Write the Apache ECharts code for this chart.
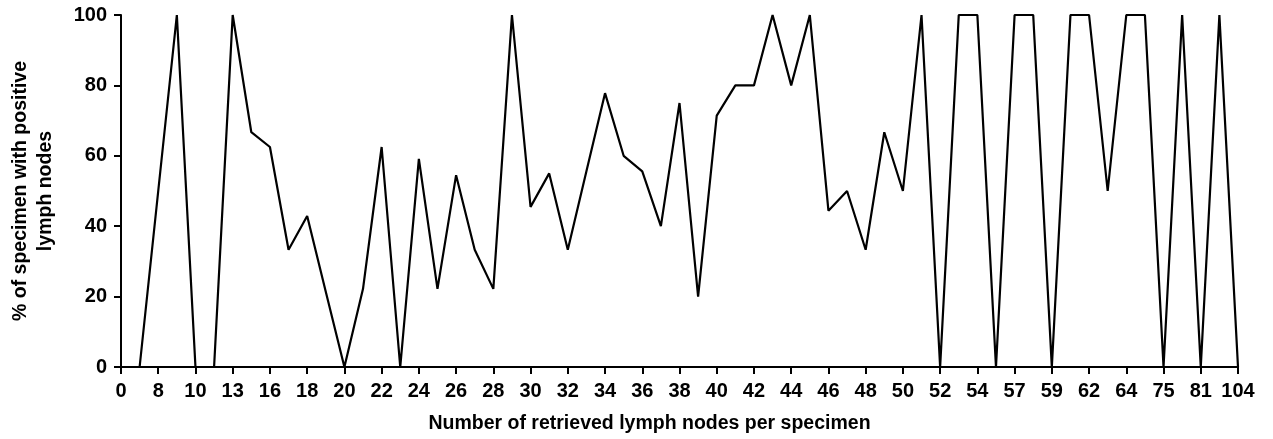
<!DOCTYPE html>
<html>
<head>
<meta charset="utf-8">
<script src="https://cdn.jsdelivr.net/npm/echarts@6/dist/echarts.min.js"></script>
<style>html,body{margin:0;padding:0;background:#fff}#c{width:1273px;height:439px}</style>
</head>
<body>
<div id="c"></div>
<script>
// Categories: number of retrieved lymph nodes (every other one labelled)
const categories = ['0','6','8','9','10','12','13','15','16','17','18','19','20','21','22','23','24','25','26','27',
  '28','29','30','31','32','33','34','35','36','37','38','39','40','41','42','43','44','45','46','47',
  '48','49','50','51','52','53','54','56','57','58','59','61','62','63','64','68','75','78','81','86','104'];
// % of specimen with positive lymph nodes
const percentPositive = [null,0,50,100,0,0,100,66.7,62.5,33.3,42.9,21.4,0,22.2,62.5,0,59.1,22.2,54.5,33.3,
  22.2,100,45.5,55,33.3,55.6,77.8,60,55.6,40,75,20,71.4,80,80,100,80,100,44.4,50,
  33.3,66.7,50,100,0,100,100,0,100,100,0,100,100,50,100,100,0,100,0,100,0];
const yTicks = {min: 0, max: 100, interval: 20};
const xName = 'Number of retrieved lymph nodes per specimen';
const yName = '% of specimen with positive\nlymph nodes';

const chart = echarts.init(document.getElementById('c'), null, {renderer: 'canvas'});
const font = 'Liberation Sans, Arial, Helvetica, sans-serif';
chart.setOption({
  animation: false,
  backgroundColor: '#fff',
  grid: {left: 120, right: 35, top: 15, bottom: 72, containLabel: false},
  xAxis: {
    type: 'category',
    data: categories,
    boundaryGap: false,
    name: xName,
    nameLocation: 'middle',
    nameGap: 47,
    nameTextStyle: {fontFamily: font, fontWeight: 'bold', fontSize: 19.5, color: '#000', padding: [0, 60, 0, 0]},
    axisLine: {lineStyle: {color: '#000', width: 2}},
    axisTick: {show: true, interval: 1, length: 7, lineStyle: {color: '#000', width: 2}},
    axisLabel: {interval: 1, margin: 14, fontFamily: font, fontWeight: 'bold', fontSize: 20, color: '#000'},
    splitLine: {show: false}
  },
  yAxis: {
    type: 'value',
    min: yTicks.min, max: yTicks.max, interval: yTicks.interval,
    name: yName,
    nameLocation: 'middle',
    nameGap: 63,
    nameTextStyle: {fontFamily: font, fontWeight: 'bold', fontSize: 19.5, color: '#000', lineHeight: 25},
    axisLine: {show: true, lineStyle: {color: '#000', width: 2}},
    axisTick: {show: true, length: 7, lineStyle: {color: '#000', width: 2}},
    axisLabel: {margin: 14, fontFamily: font, fontWeight: 'bold', fontSize: 20, color: '#000'},
    splitLine: {show: false}
  },
  series: [{
    type: 'line',
    data: percentPositive,
    showSymbol: false,
    symbol: 'none',
    connectNulls: false,
    lineStyle: {color: '#000', width: 2.2},
    itemStyle: {color: '#000'}
  }]
});
</script>
</body>
</html>
